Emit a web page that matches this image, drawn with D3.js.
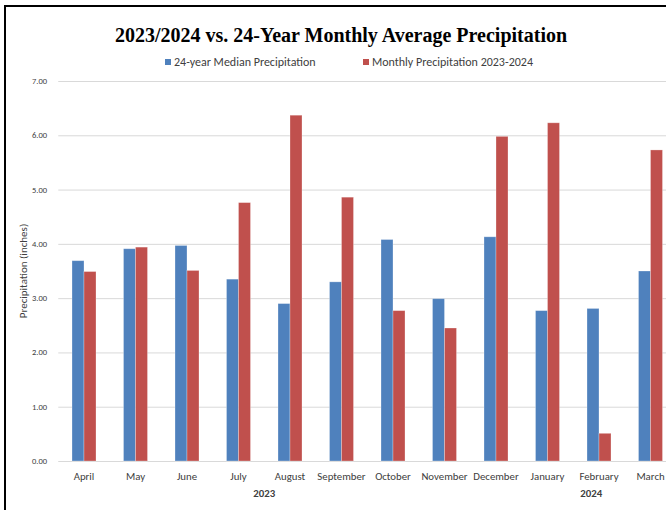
<!DOCTYPE html>
<html><head><meta charset="utf-8">
<script src="https://cdn.jsdelivr.net/npm/d3@7"></script>
<style>
html,body{margin:0;padding:0;background:#fff;}
svg{display:block;}
</style></head>
<body>
<svg id="chart" width="666" height="510"></svg>
<script>
const months = ["April","May","June","July","August","September","October","November","December","January","February","March"];
const seriesNames = ["24-year Median Precipitation","Monthly Precipitation 2023-2024"];
const medianValues = [3.69,3.91,3.97,3.35,2.90,3.30,4.08,2.99,4.13,2.77,2.81,3.50];
const monthlyValues = [3.49,3.94,3.51,4.76,6.37,4.86,2.77,2.45,5.98,6.23,0.51,5.73];
const yTicks = [0,1,2,3,4,5,6,7];
const yearLabels = ["2023","2024"];
const titleText = "2023/2024 vs. 24-Year Monthly Average Precipitation";
const yAxisTitle = "Precipitation (inches)";
const colors = ["#4f81bd","#c0504d"];

const svg = d3.select("#chart");
const sans = "Carlito, Calibri, Lato, 'Open Sans', sans-serif";

// frame
svg.append("line").attr("x1",5).attr("x2",666).attr("y1",6).attr("y2",6).attr("stroke","#000").attr("stroke-width",2);
svg.append("line").attr("x1",5).attr("x2",5).attr("y1",5).attr("y2",510).attr("stroke","#000").attr("stroke-width",2);

const plotLeft = 58.25, step = 51.5;
const x = d3.scaleBand().domain(months).range([plotLeft, plotLeft + step*months.length]).padding(0);
const y = d3.scaleLinear().domain([0,7]).range([461,81]);
const xSub = d3.scaleBand().domain([0,1]).range([x.bandwidth()/2 - 12, x.bandwidth()/2 + 12]).padding(0);

// gridlines
svg.append("g").selectAll("line").data(yTicks).join("line")
  .attr("x1", plotLeft).attr("x2", 666)
  .attr("y1", d => y(d)+0.5).attr("y2", d => y(d)+0.5)
  .attr("stroke", "#d9d9d9").attr("stroke-width", 1);

// y tick labels
svg.append("g").selectAll("text").data(yTicks).join("text")
  .attr("x", 47).attr("y", d => y(d)).attr("dy","0.35em")
  .attr("text-anchor","end").attr("font-family", sans).attr("font-size", 8.5).attr("fill","#404040")
  .text(d => d3.format(".2f")(d));

// y axis title
svg.append("text").attr("transform", `translate(27,${(y(0)+y(7))/2}) rotate(-90)`)
  .attr("text-anchor","middle").attr("font-family", sans).attr("font-size", 11).attr("fill","#404040")
  .text(yAxisTitle);

// bars
const data = months.map((m,i) => ({m, vals:[medianValues[i], monthlyValues[i]]}));
const groups = svg.append("g").selectAll("g").data(data).join("g")
  .attr("transform", d => `translate(${x(d.m)},0)`);
groups.selectAll("rect").data(d => d.vals.map((v,k)=>({v,k}))).join("rect")
  .attr("x", d => xSub(d.k)).attr("width", xSub.bandwidth())
  .attr("y", d => y(d.v)).attr("height", d => y(0) - y(d.v))
  .attr("fill", d => colors[d.k])
  .attr("stroke", "#ffffff").attr("stroke-opacity", 0.35).attr("stroke-width", 0.8);

// month labels
svg.append("g").selectAll("text").data(months).join("text")
  .attr("x", d => x(d) + x.bandwidth()/2).attr("y", 476).attr("dy","0.35em")
  .attr("text-anchor","middle").attr("font-family", sans).attr("font-size", 10.8).attr("fill","#404040")
  .text(d => d);

// year labels
const yearX = [
  (x("July") + x("August"))/2 + x.bandwidth()/2,
  x("January") + x.bandwidth()/2 + 0.85*step
];
svg.append("g").selectAll("text").data(yearLabels).join("text")
  .attr("x", (d,i) => yearX[i]).attr("y", 493).attr("dy","0.35em")
  .attr("text-anchor","middle").attr("font-family", sans).attr("font-size", 10.8).attr("font-weight","bold").attr("fill","#404040")
  .text(d => d);

// title
svg.append("text").attr("x", 341).attr("y", 42).attr("text-anchor","middle")
  .attr("font-family","'Liberation Serif','Times New Roman',serif").attr("font-weight","bold").attr("font-size", 20).attr("fill","#000")
  .text(titleText);

// legend
const legendPos = [165, 363];
const lg = svg.append("g").selectAll("g").data(seriesNames).join("g")
  .attr("transform", (d,i) => `translate(${legendPos[i]},0)`);
lg.append("rect").attr("x",0).attr("y",59).attr("width",6).attr("height",6).attr("fill",(d,i)=>colors[i]);
lg.append("text").attr("x",9).attr("y",62).attr("dy","0.35em").attr("font-family", sans).attr("font-size",12).attr("fill","#404040").text(d=>d);
</script>
</body></html>
